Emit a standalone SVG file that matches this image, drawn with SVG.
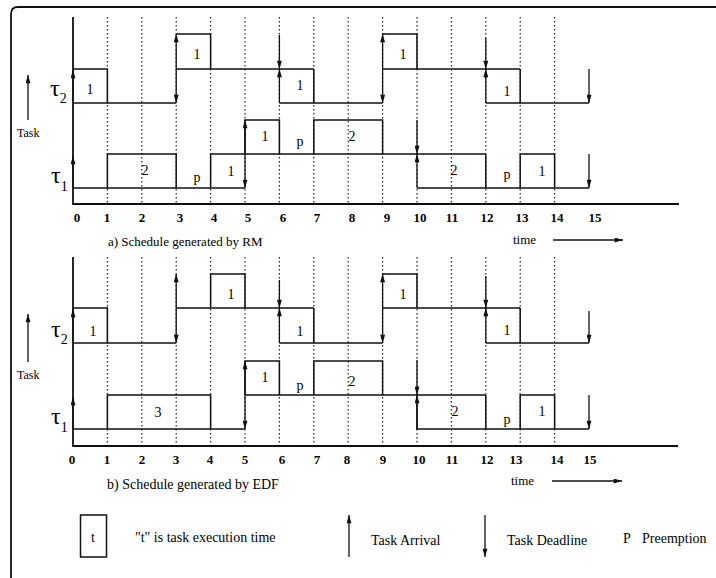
<svg xmlns="http://www.w3.org/2000/svg" width="716" height="578" viewBox="0 0 716 578">
<defs>
<style>
.s{fill:none;stroke:#111;stroke-width:1.5}
.ax{fill:none;stroke:#111;stroke-width:1.8}
.dot{fill:none;stroke:#222;stroke-width:1.2;stroke-dasharray:1.5 2.5}
.ar{fill:none;stroke:#111;stroke-width:1.3}
.e{marker-end:url(#ah)}
.b{marker-start:url(#ah);marker-end:url(#ah)}
text{font-family:"Liberation Serif","Times New Roman",serif;fill:#000}
.n{font-size:13px;text-anchor:middle;font-weight:bold}
.l{font-size:14px;text-anchor:middle}
.tau{font-size:24px}
.sub{font-size:14px}
.cap{font-size:13px}
.lg{font-size:14px}
</style>
<marker id="ah" viewBox="0 0 10 6" refX="10" refY="3" markerWidth="9" markerHeight="5" markerUnits="userSpaceOnUse" orient="auto-start-reverse"><path d="M0,0L10,3L0,6z" fill="#111"/></marker>
</defs>
<rect width="716" height="578" fill="#fff"/>
<path id="frame" class="ax" d="M11,578 V14 Q11,7 18,7 H716"/>

<g id="chart-rm">
<g id="rm-grid">
<path class="dot" d="M107.4,17V204M141.8,17V204M176.2,17V204M210.6,17V204M245,17V204M279.4,17V204M313.8,17V204M348.2,17V204M382.6,17V204M417,17V204M451.4,17V204M485.8,17V204M520.2,17V204M554.6,17V204"/>
<path class="ax" d="M73,17V204H679"/>
</g>
<g id="rm-tau2">
<path class="s" d="M73,103H176.2 M73,69H107.4V103 M176.2,34H210.6V69 M176.2,69H313.8 M313.8,69V103 M279.4,103H382.6 M382.6,34H417V69 M382.6,69H520.2 M520.2,69V103 M485.8,103H589"/>
<text class="l" x="90" y="94">1</text>
<text class="l" x="197" y="59">1</text>
<text class="l" x="300" y="90">1</text>
<text class="l" x="403" y="59">1</text>
<text class="l" x="507" y="96">1</text>
</g>
<g id="rm-tau1">
<path class="s" d="M73,188H245 M107.4,188V154H176.2V188 M210.6,188V154H485.8 M245,154V120H279.4V154 M313.8,154V120H382.6V154 M417,188H589 M485.8,154V188 M520.2,188V154H554.6V188"/>
<text class="l" x="145" y="175">2</text>
<text class="l" x="197" y="182">p</text>
<text class="l" x="231" y="176">1</text>
<text class="l" x="265" y="141">1</text>
<text class="l" x="300" y="146">p</text>
<text class="l" x="352" y="141">2</text>
<text class="l" x="454" y="175">2</text>
<text class="l" x="507" y="179">p</text>
<text class="l" x="542" y="176">1</text>
</g>
<g id="rm-labels">
<text class="tau" x="50" y="96">τ<tspan class="sub" dy="7">2</tspan></text>
<text class="tau" x="51" y="183">τ<tspan class="sub" dy="8">1</tspan></text>
<text style="font-size:12px" x="17" y="137">Task</text>
<text class="n" y="222"><tspan x="77">0</tspan><tspan x="107">1</tspan><tspan x="142">2</tspan><tspan x="180">3</tspan><tspan x="214">4</tspan><tspan x="248">5</tspan><tspan x="283">6</tspan><tspan x="317">7</tspan><tspan x="352">8</tspan><tspan x="387">9</tspan><tspan x="420">10</tspan><tspan x="452">11</tspan><tspan x="487">12</tspan><tspan x="522">13</tspan><tspan x="557">14</tspan><tspan x="595">15</tspan></text>
<text class="cap" x="108" y="246">a) Schedule generated by RM</text>
<text class="cap" x="513" y="244">time</text>
</g>
</g>

<g id="chart-edf">
<g id="edf-grid">
<path class="dot" d="M107.4,257V446M141.8,257V446M176.2,257V446M210.6,257V446M245,257V446M279.4,257V446M313.8,257V446M348.2,257V446M382.6,257V446M417,257V446M451.4,257V446M485.8,257V446M520.2,257V446M554.6,257V446"/>
<path class="ax" d="M73,257V446H678"/>
</g>
<g id="edf-tau2">
<path class="s" d="M73,343H176.2 M73,308H107.4V343 M176.2,308H313.8 M210.6,308V274H245V308 M313.8,308V343 M279.4,343H382.6 M382.6,308H520.2 M382.6,274H417V308 M520.2,308V343 M485.8,343H589"/>
<text class="l" x="93" y="336">1</text>
<text class="l" x="231" y="299">1</text>
<text class="l" x="300" y="336">1</text>
<text class="l" x="403" y="299">1</text>
<text class="l" x="507" y="335">1</text>
</g>
<g id="edf-tau1">
<path class="s" d="M73,429H245 M107.4,429V395H210.6V429 M245,395H485.8 M245,395V361H279.4V395 M313.8,395V361H382.6V395 M417,395V429H589 M485.8,395V429 M520.2,429V395H554.6V429"/>
<text class="l" x="158" y="417">3</text>
<text class="l" x="265" y="382">1</text>
<text class="l" x="300" y="390">p</text>
<text class="l" x="352" y="386">2</text>
<text class="l" x="455" y="416">2</text>
<text class="l" x="507" y="424">p</text>
<text class="l" x="542" y="416">1</text>
</g>
<g id="edf-labels">
<text class="tau" x="51" y="337">τ<tspan class="sub" dy="7">2</tspan></text>
<text class="tau" x="51" y="424">τ<tspan class="sub" dy="8">1</tspan></text>
<text style="font-size:12px" x="17" y="379">Task</text>
<text class="n" y="464"><tspan x="72">0</tspan><tspan x="107">1</tspan><tspan x="142">2</tspan><tspan x="176">3</tspan><tspan x="210">4</tspan><tspan x="245">5</tspan><tspan x="282">6</tspan><tspan x="317">7</tspan><tspan x="347">8</tspan><tspan x="383">9</tspan><tspan x="419">10</tspan><tspan x="452">11</tspan><tspan x="487">12</tspan><tspan x="516">13</tspan><tspan x="557">14</tspan><tspan x="590">15</tspan></text>
<text style="font-size:14px" x="107" y="489">b) Schedule generated by EDF</text>
<text class="cap" x="511" y="485">time</text>
</g>
</g>

<g id="connectors">
<path class="ar e" d="M28,120V75"/>
<path class="ar e" d="M553,240H623"/>
<path class="ar e" d="M73,103V70"/>
<path class="ar b" d="M176.2,103V34"/>
<path class="ar e" d="M279.4,35V69"/>
<path class="ar e" d="M279.4,103V69"/>
<path class="ar b" d="M382.6,103V34"/>
<path class="ar e" d="M485.8,38V69"/>
<path class="ar e" d="M485.8,103V69"/>
<path class="ar e" d="M589,69V103"/>
<path class="ar e" d="M73,188V156"/>
<path class="ar b" d="M245,188V120"/>
<path class="ar e" d="M417,120V154"/>
<path class="ar e" d="M417,188V154"/>
<path class="ar e" d="M589,154V188"/>

<path class="ar e" d="M28,362V314"/>
<path class="ar e" d="M552,481H622"/>
<path class="ar e" d="M73,343V309"/>
<path class="ar b" d="M176.2,343V274"/>
<path class="ar e" d="M279.4,280V308"/>
<path class="ar e" d="M279.4,343V308"/>
<path class="ar b" d="M382.6,343V274"/>
<path class="ar e" d="M485.8,276V308"/>
<path class="ar e" d="M485.8,343V308"/>
<path class="ar e" d="M589,311V343"/>
<path class="ar e" d="M73,429V397"/>
<path class="ar b" d="M245,429V361"/>
<path class="ar e" d="M417,360V395"/>
<path class="ar e" d="M417,429V395"/>
<path class="ar e" d="M589,395V429"/>
</g>

<g id="legend">
<g id="legend-box">
<rect x="80.5" y="515" width="26" height="42" fill="none" stroke="#111" stroke-width="1.5"/>
<text class="lg" x="93" y="542" text-anchor="middle">t</text>
</g>
<text class="lg" x="135" y="542">"t" is task execution time</text>
<path class="ar e" d="M349,557V515"/>
<text class="lg" x="371" y="545">Task Arrival</text>
<path class="ar e" d="M485,515V557"/>
<text class="lg" x="507" y="545">Task Deadline</text>
<text class="lg" x="627" y="543" text-anchor="middle">P</text>
<text class="lg" x="642" y="543">Preemption</text>
</g>
</svg>
